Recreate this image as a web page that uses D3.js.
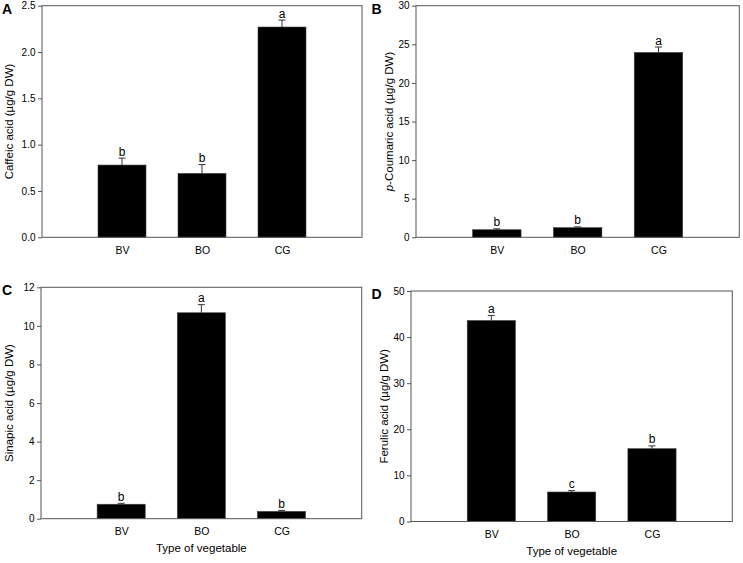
<!DOCTYPE html>
<html>
<head>
<meta charset="utf-8">
<script src="https://cdn.jsdelivr.net/npm/d3@7"></script>
<style>
  body { margin: 0; background: #fff; }
  text { font-family: "Liberation Sans", Arial, sans-serif; fill: #000; }
</style>
</head>
<body>
<div class="chart"></div>
<script>
// chart data
var categories = ["BV", "BO", "CG"];

var caffeic = [0.78, 0.69, 2.27];
var caffeicErr = [0.075, 0.095, 0.075];
var caffeicLetters = ["b", "b", "a"];
var caffeicTicks = [0, 0.5, 1.0, 1.5, 2.0, 2.5];

var coumaric = [0.98, 1.25, 23.95];
var coumaricErr = [0.12, 0.1, 0.7];
var coumaricLetters = ["b", "b", "a"];
var coumaricTicks = [0, 5, 10, 15, 20, 25, 30];

var sinapic = [0.75, 10.68, 0.38];
var sinapicErr = [0.05, 0.42, 0.05];
var sinapicLetters = ["b", "a", "b"];
var sinapicTicks = [0, 2, 4, 6, 8, 10, 12];

var ferulic = [43.6, 6.4, 15.8];
var ferulicErr = [1.1, 0.3, 0.6];
var ferulicLetters = ["a", "c", "b"];
var ferulicTicks = [0, 10, 20, 30, 40, 50];

var svgWidth = 743;
var svgHeight = 563;

var svg = d3.select(".chart")
  .append("svg")
  .attr("width", svgWidth)
  .attr("height", svgHeight);

// panel layout (frame box of each plot)
var panels = [
  { tag: "A", title: "Caffeic acid (µg/g DW)", values: caffeic, errs: caffeicErr, letters: caffeicLetters,
    ticks: caffeicTicks, fmt: ".1f", left: 42, right: 362, top: 5.7, bottom: 237.3, titleX: 9, xTitle: false },
  { tag: "B", title: "p-Coumaric acid (µg/g DW)", values: coumaric, errs: coumaricErr, letters: coumaricLetters,
    ticks: coumaricTicks, fmt: "d", left: 416, right: 739.3, top: 5.7, bottom: 237.3, titleX: 389, xTitle: false, italicP: true },
  { tag: "C", title: "Sinapic acid (µg/g DW)", values: sinapic, errs: sinapicErr, letters: sinapicLetters,
    ticks: sinapicTicks, fmt: "d", left: 41, right: 361.7, top: 287.3, bottom: 518.7, titleX: 9, xTitle: true },
  { tag: "D", title: "Ferulic acid (µg/g DW)", values: ferulic, errs: ferulicErr, letters: ferulicLetters,
    ticks: ferulicTicks, fmt: "d", left: 411, right: 732.3, top: 291, bottom: 521.5, titleX: 384, xTitle: true }
];

var axisColor = "#555";

panels.forEach(function(p) {
  var g = svg.append("g");

  var xScale = d3.scalePoint()
    .domain(categories)
    .range([p.left, p.right])
    .padding(1);

  var yScale = d3.scaleLinear()
    .domain([0, d3.max(p.ticks)])
    .range([p.bottom, p.top]);

  var barWidth = xScale.step() * 0.6;

  // bars
  g.selectAll(".bar")
    .data(p.values)
    .enter()
    .append("rect")
    .attr("x", (d, i) => xScale(categories[i]) - barWidth / 2)
    .attr("y", d => yScale(d))
    .attr("width", barWidth)
    .attr("height", d => p.bottom - yScale(d))
    .attr("fill", "#000")
    .attr("stroke", "#444")
    .attr("stroke-width", 0.6);

  // error bars (upper only)
  var errG = g.append("g")
    .attr("stroke", "#333")
    .attr("stroke-width", 1);

  p.values.forEach(function(v, i) {
    var cx = xScale(categories[i]);
    errG.append("line")
      .attr("x1", cx).attr("x2", cx)
      .attr("y1", yScale(v)).attr("y2", yScale(v + p.errs[i]));
    errG.append("line")
      .attr("x1", cx - 3.5).attr("x2", cx + 3.5)
      .attr("y1", yScale(v + p.errs[i])).attr("y2", yScale(v + p.errs[i]));
  });

  // significance letters
  g.selectAll(".sig")
    .data(p.values)
    .enter()
    .append("text")
    .attr("x", (d, i) => xScale(categories[i]))
    .attr("y", (d, i) => yScale(d + p.errs[i]) - 2.5)
    .attr("text-anchor", "middle")
    .attr("font-size", "12px")
    .attr("fill", "#000")
    .text((d, i) => p.letters[i]);

  // frame
  g.append("rect")
    .attr("x", p.left)
    .attr("y", p.top)
    .attr("width", p.right - p.left)
    .attr("height", p.bottom - p.top)
    .attr("fill", "none")
    .attr("stroke", axisColor)
    .attr("stroke-width", 1);

  // y axis
  var leftAxis = d3.axisLeft(yScale)
    .tickValues(p.ticks)
    .tickFormat(d3.format(p.fmt))
    .tickSize(4)
    .tickSizeOuter(0)
    .tickPadding(2.5);

  var yAxis = g.append("g")
    .attr("transform", `translate(${p.left}, 0)`)
    .call(leftAxis);
  yAxis.select(".domain").remove();
  yAxis.selectAll("line").attr("stroke", axisColor);
  yAxis.selectAll("text")
    .attr("font-size", "10px")
    .attr("font-family", "'Liberation Sans', Arial, sans-serif")
    .attr("fill", "#000");

  // x axis
  var bottomAxis = d3.axisBottom(xScale)
    .tickSize(0)
    .tickPadding(9);

  var xAxis = g.append("g")
    .attr("transform", `translate(0, ${p.bottom})`)
    .call(bottomAxis);
  xAxis.select(".domain").remove();
  xAxis.selectAll("text")
    .attr("font-size", "10.5px")
    .attr("font-family", "'Liberation Sans', Arial, sans-serif")
    .attr("fill", "#000");

  // y axis title
  var yTitle = g.append("text")
    .attr("transform", `translate(${p.titleX}, ${(p.top + p.bottom) / 2}) rotate(-90)`)
    .attr("text-anchor", "middle")
    .attr("dy", "0.35em")
    .attr("font-size", "11.5px")
    .attr("fill", "#000");
  if (p.italicP) {
    yTitle.append("tspan").attr("font-style", "italic").text("p");
    yTitle.append("tspan").text(p.title.slice(1));
  } else {
    yTitle.text(p.title);
  }

  // x axis title
  if (p.xTitle) {
    g.append("text")
      .attr("x", (p.left + p.right) / 2)
      .attr("y", p.bottom + 33)
      .attr("text-anchor", "middle")
      .attr("font-size", "11.5px")
      .attr("fill", "#000")
      .text("Type of vegetable");
  }

  // panel tag
  g.append("text")
    .attr("x", p.tag === "A" || p.tag === "C" ? 2 : 371.5)
    .attr("y", p.top + 8)
    .attr("font-size", "14px")
    .attr("font-weight", "bold")
    .attr("fill", "#000")
    .text(p.tag);
});
</script>
</body>
</html>
